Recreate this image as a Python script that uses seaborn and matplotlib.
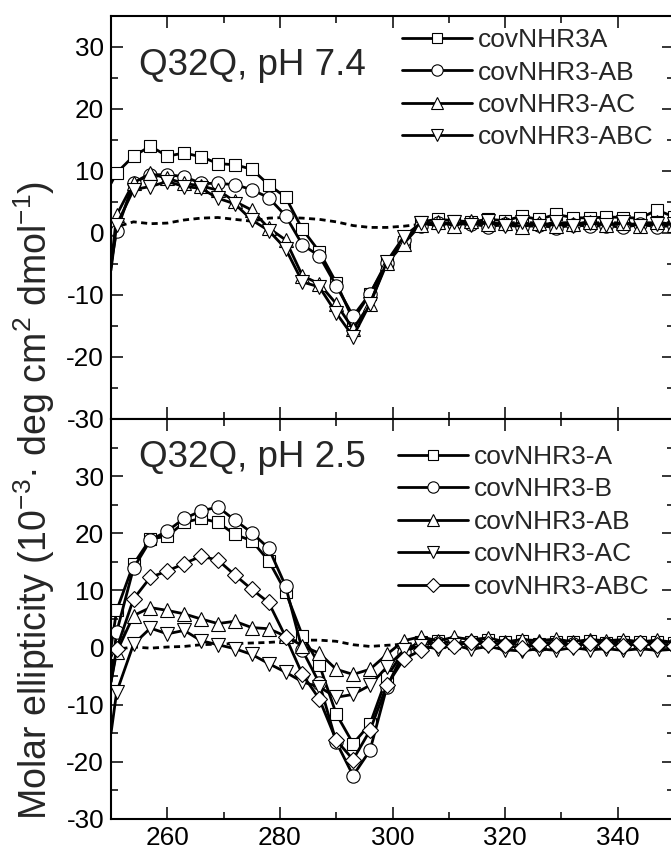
import numpy as np
import seaborn as sns
import matplotlib.pyplot as plt
from matplotlib.lines import Line2D

# wavelength grid (nm): first point 250, then one reading every 3 nm with a marker
wl = np.array([250] + list(range(251, 351, 3)))

# pH 7.4 panel
ph74_A = [8.0, 9.7, 12.4, 14.0, 12.4, 12.9, 12.3, 11.2, 11.0, 10.3, 7.8, 5.8, 0.6, -3.0, -8.0, -14.0, -9.8, -4.6,
          -1.5, 1.8, 2.2, 2.0, 1.8, 2.2, 2.0, 2.7, 2.2, 3.0, 2.5, 2.4, 2.6, 2.5, 2.4, 3.7, 2.6]
ph74_AB = [-5.0, 0.3, 8.1, 9.4, 9.4, 9.1, 8.0, 8.0, 7.8, 7.0, 5.7, 2.8, -1.9, -3.7, -8.5, -13.4, -9.8, -4.9,
           -1.1, 1.2, 1.6, 1.4, 1.5, 1.0, 1.4, 0.9, 1.3, 0.8, 1.3, 1.1, 1.2, 0.9, 1.4, 1.0, 1.2]
ph74_AC = [-5.5, 2.9, 8.1, 9.6, 8.8, 8.0, 7.6, 6.9, 5.1, 3.7, 0.8, -1.1, -6.9, -8.2, -11.4, -15.5, -11.4, -4.9,
           -1.7, 1.3, 1.8, 1.2, 1.9, 1.4, 1.6, 1.0, 1.6, 1.2, 1.5, 1.7, 1.3, 1.6, 1.2, 1.8, 1.3]
ph74_ABC = [-6.0, 1.3, 7.0, 7.5, 8.3, 7.5, 7.2, 5.6, 4.7, 2.1, 0.4, -2.5, -7.9, -8.7, -12.9, -16.7, -11.4, -4.6,
            -0.6, 1.6, 1.2, 1.8, 1.3, 1.9, 1.2, 1.7, 1.1, 1.8, 1.2, 1.6, 1.3, 1.7, 1.2, 1.5, 1.4]
ph74_ref = [0.5, 1.0, 1.8, 1.5, 1.6, 2.1, 2.4, 2.5, 2.2, 1.9, 2.4, 2.5, 2.4, 2.2, 1.8, 1.2, 0.9, 0.9,
            1.1, 1.4, 1.6, 1.6, 1.7, 1.6, 1.7, 1.6, 1.7, 1.6, 1.7, 1.6, 1.7, 1.6, 1.7, 1.6, 1.7]

# pH 2.5 panel
ph25_A = [0.0, 6.5, 14.6, 19.0, 19.5, 21.9, 22.6, 21.9, 19.8, 18.7, 15.2, 9.8, 2.1, -3.0, -11.6, -16.8, -13.4, -5.2,
          -0.5, 1.0, 1.2, 0.8, 1.0, 1.3, 0.9, 1.1, 0.7, 1.0, 0.9, 1.1, 0.8, 1.0, 0.9, 1.0, 0.8]
ph25_B = [-5.0, 2.7, 13.9, 18.8, 20.4, 22.6, 23.9, 24.6, 22.3, 20.1, 17.4, 10.8, -0.5, -6.2, -16.5, -22.4, -18.0, -6.9,
          -0.8, 0.5, 0.8, 1.0, 0.6, 0.8, 0.5, 0.7, 0.4, 0.7, 0.6, 0.5, 0.7, 0.4, 0.6, 0.5, 0.4]
ph25_AB = [-6.0, -0.8, 5.6, 7.0, 6.5, 5.9, 5.0, 4.2, 4.6, 3.5, 3.3, 2.0, 0.3, -1.0, -3.8, -4.7, -3.8, -1.2,
           1.2, 1.9, 1.2, 1.8, 1.4, 1.7, 1.0, 1.4, 1.2, 1.5, 1.0, 1.4, 1.2, 1.4, 1.0, 1.3, 0.9]
ph25_AC = [-15.0, -7.8, 0.6, 3.4, 2.4, 3.0, 1.2, 0.5, -0.2, -1.2, -2.8, -4.3, -6.0, -6.9, -8.7, -8.2, -6.6, -3.4,
           -0.5, 0.3, -0.2, 0.4, -0.3, 0.2, -0.4, -0.6, -0.2, -0.5, 0.0, -0.4, -0.2, -0.5, -0.2, -0.5, -0.3]
ph25_ABC = [-6.0, -0.2, 8.5, 12.3, 13.4, 14.7, 16.0, 15.3, 12.7, 10.2, 7.9, 1.9, -4.7, -9.0, -16.2, -19.6, -14.5, -6.6,
            -2.0, -0.5, 0.5, 0.3, 1.0, 0.7, 0.4, -0.1, 0.6, 0.5, 0.3, 0.8, 0.5, 0.3, 0.8, 0.5, 0.3]
ph25_ref = [-0.5, -0.3, 0.1, -0.1, 0.1, 0.2, 0.5, 0.6, 0.7, 0.8, 0.9, 1.1, 1.3, 1.3, 1.1, 0.5, 0.2, 0.4,
            0.6, 0.8, 0.8, 0.8, 0.8, 0.8, 0.8, 0.8, 0.8, 0.8, 0.8, 0.8, 0.8, 0.8, 0.8, 0.8, 0.8]

top_series = [('covNHR3A', ph74_A, 's'), ('covNHR3-AB', ph74_AB, 'o'),
              ('covNHR3-AC', ph74_AC, '^'), ('covNHR3-ABC', ph74_ABC, 'v')]
bot_series = [('covNHR3-A', ph25_A, 's'), ('covNHR3-B', ph25_B, 'o'), ('covNHR3-AB', ph25_AB, '^'),
              ('covNHR3-AC', ph25_AC, 'v'), ('covNHR3-ABC', ph25_ABC, 'D')]

sns.set_style('ticks')
plt.rcParams['font.family'] = ['Liberation Sans', 'DejaVu Sans']
plt.rcParams['mathtext.fontset'] = 'custom'
plt.rcParams['mathtext.rm'] = 'Liberation Sans'
plt.rcParams['mathtext.it'] = 'Liberation Sans:italic'
plt.rcParams['axes.unicode_minus'] = False

msize = {'s': 9.2, 'o': 9.6, '^': 10.2, 'v': 10.2, 'D': 7.8}

fig = plt.figure(figsize=(6.71, 8.57), dpi=100)
W, H = 671, 857
ax_top = fig.add_axes([111 / W, (H - 419) / H, 563 / W, 403 / H])
ax_bot = fig.add_axes([111 / W, (H - 819) / H, 563 / W, 400 / H])


def draw_panel(ax, series, ref, ylim, title, title_y, leg_anchor):
    # dashed reference trace, no legend entry
    sns.lineplot(x=wl, y=ref, ax=ax, color='black', linewidth=2.0,
                 linestyle=(0, (2.2, 1.6)), errorbar=None)
    handles = []
    for name, vals, mk in series:
        sns.lineplot(x=wl, y=vals, ax=ax, color='black', linewidth=2.0, marker=mk,
                     markersize=msize[mk], markerfacecolor='white', markeredgecolor='black',
                     markeredgewidth=0.8, markevery=slice(1, None), errorbar=None)
        handles.append(Line2D([], [], color='black', linewidth=2.0, marker=mk,
                              markersize=msize[mk] * 0.85, markerfacecolor='white',
                              markeredgecolor='black', markeredgewidth=0.8, label=name))
    ax.set_xlim(250, 350)
    ax.set_ylim(*ylim)
    ax.set_xticks([260, 280, 300, 320, 340])
    ax.set_xticks(np.arange(250, 351, 10), minor=True)
    ax.set_yticks(np.arange(-30, 31, 10))
    ax.set_yticks(np.arange(-30, ylim[1] + 0.1, 5), minor=True)
    ax.tick_params(which='both', direction='in', top=True, right=True, width=1.1,
                   labelsize=18.8, color='black', labelcolor='black')
    ax.tick_params(which='major', length=8.6, pad=5)
    ax.tick_params(which='minor', length=5)
    for s in ax.spines.values():
        s.set_linewidth(1.5)
        s.set_color('black')
    ax.set_xlabel('')
    ax.set_ylabel('')
    ax.text(0.05, title_y, title, transform=ax.transAxes, fontsize=26.5,
            ha='left', va='center')
    ax.legend(handles=handles, loc='upper left', bbox_to_anchor=leg_anchor,
              frameon=False, fontsize=19, handlelength=2.65, handletextpad=0.22,
              labelspacing=0.32, borderpad=0, borderaxespad=0, numpoints=1)


draw_panel(ax_top, top_series, ph74_ref, (-30, 35), 'Q32Q, pH 7.4', 0.878, (0.517, 0.97))
draw_panel(ax_bot, bot_series, ph25_ref, (-30, 40), 'Q32Q, pH 2.5', 0.905, (0.51, 0.935))
ax_top.tick_params(labelbottom=False)

fig.text(34 / W, (H - 500) / H,
         'Molar ellipticity (10$^{\\mathregular{-3}}$· deg cm$^{2}$ dmol$^{\\mathregular{-1}}$)',
         rotation=90, ha='center', va='center', fontsize=27)

fig.savefig('out.png', dpi=100)
